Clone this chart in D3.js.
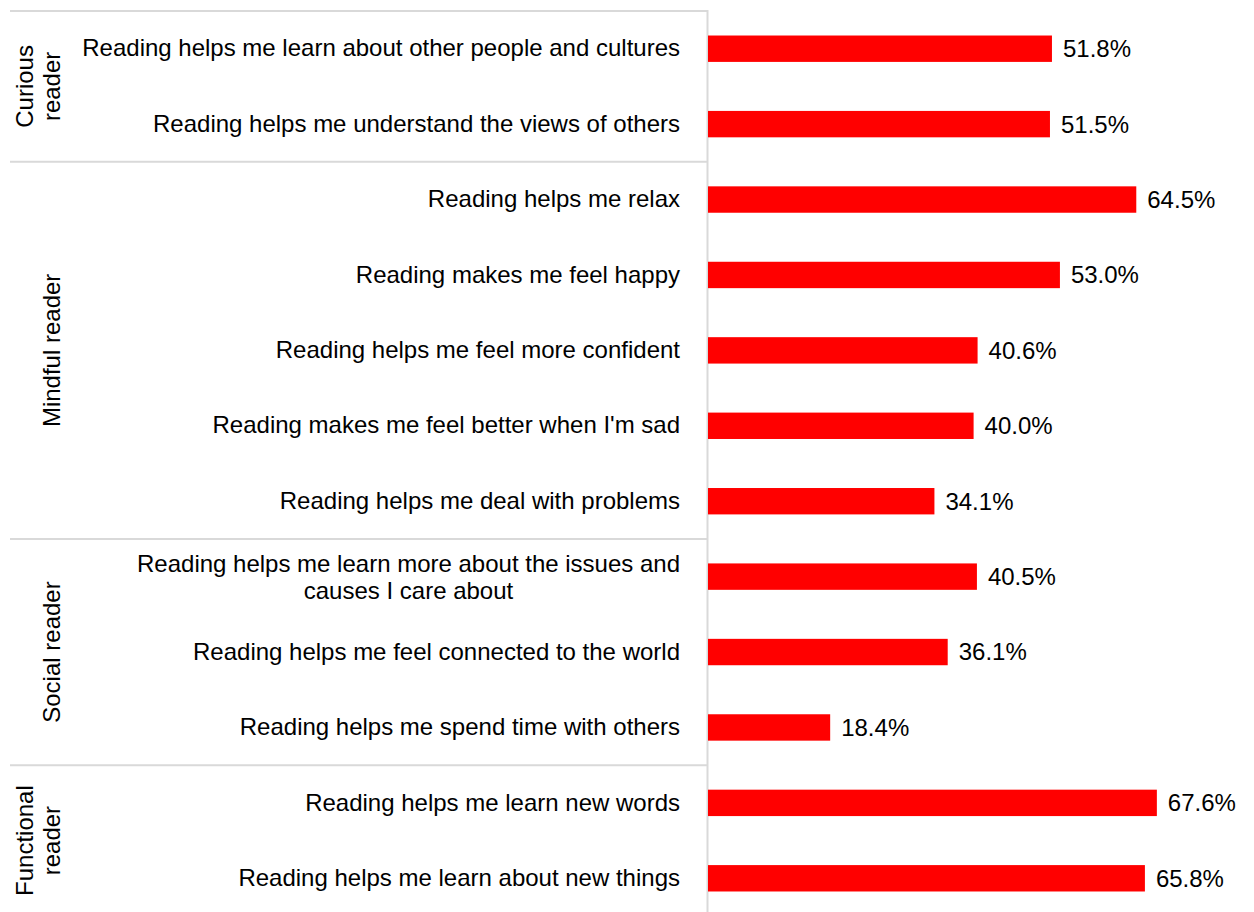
<!DOCTYPE html>
<html>
<head>
<meta charset="utf-8">
<script src="https://cdn.jsdelivr.net/npm/d3@7"></script>
<style>
  html, body { margin: 0; padding: 0; background: #fff; }
  svg { display: block; }
  text { font-family: "Liberation Sans", Arial, sans-serif; fill: #000; }
</style>
</head>
<body>
<svg id="chart" width="1254" height="912"></svg>
<script>
// Statements about reading, grouped by reader type, with the share agreeing (%)
const categories = [
  "Reading helps me learn about other people and cultures",
  "Reading helps me understand the views of others",
  "Reading helps me relax",
  "Reading makes me feel happy",
  "Reading helps me feel more confident",
  "Reading makes me feel better when I'm sad",
  "Reading helps me deal with problems",
  "Reading helps me learn more about the issues and causes I care about",
  "Reading helps me feel connected to the world",
  "Reading helps me spend time with others",
  "Reading helps me learn new words",
  "Reading helps me learn about new things"
];
const values = [51.8, 51.5, 64.5, 53.0, 40.6, 40.0, 34.1, 40.5, 36.1, 18.4, 67.6, 65.8];
const groupNames = ["Curious reader", "Mindful reader", "Social reader", "Functional reader"];
const groupSizes = [2, 5, 3, 2];

const svg = d3.select("#chart");
const FONT = 24;
const axisX = 708;
const plotTop = 11, plotBottom = 916;
const gridColor = "#d9d9d9";

const y = d3.scaleBand()
  .domain(d3.range(categories.length))
  .range([plotTop, plotBottom])
  .paddingInner(0.65)
  .paddingOuter(0.325);
const step = y.step();

const x = d3.scaleLinear().domain([0, 100]).range([axisX, axisX + 664]);

// Group separators
const groupStarts = [0];
groupSizes.forEach((s, i) => groupStarts.push(groupStarts[i] + s));
svg.append("g").selectAll("line")
  .data(groupStarts.slice(0, -1))
  .join("line")
  .attr("x1", 10).attr("x2", axisX)
  .attr("y1", d => plotTop + d * step).attr("y2", d => plotTop + d * step)
  .attr("stroke", gridColor).attr("stroke-width", 2);

// Vertical category axis line
svg.append("line")
  .attr("x1", axisX - 0.5).attr("x2", axisX - 0.5)
  .attr("y1", plotTop - 1).attr("y2", 912)
  .attr("stroke", gridColor).attr("stroke-width", 2);

// Bars
svg.append("g").selectAll("rect")
  .data(values)
  .join("rect")
  .attr("x", x(0))
  .attr("y", (d, i) => y(i))
  .attr("width", d => x(d) - x(0))
  .attr("height", y.bandwidth())
  .attr("fill", "#ff0000");

// Value labels
svg.append("g").selectAll("text")
  .data(values)
  .join("text")
  .attr("x", d => x(d) + 11)
  .attr("y", (d, i) => y(i) + y.bandwidth() / 2)
  .attr("dy", "0.35em")
  .style("font-size", FONT + "px")
  .text(d => d.toFixed(1) + "%");

// Category axis
const yAxis = d3.axisLeft(y)
  .tickSize(0)
  .tickPadding(28)
  .tickFormat(i => categories[i]);
const axisG = svg.append("g")
  .attr("transform", `translate(${axisX},0)`)
  .call(yAxis);
axisG.select(".domain").remove();
axisG.attr("font-family", null).attr("font-size", null);
axisG.selectAll("text")
  .style("font-size", FONT + "px")
  .attr("fill", "#000");

// Wrap long labels: lines centred on each other, block right-aligned
const maxLabel = 620;
axisG.selectAll(".tick text").each(function () {
  const t = d3.select(this);
  if (this.getComputedTextLength() <= maxLabel) return;
  const words = t.text().split(" ");
  t.text(null);
  const lines = [];
  let line = [];
  const probe = t.append("tspan");
  words.forEach(w => {
    line.push(w);
    probe.text(line.join(" "));
    if (probe.node().getComputedTextLength() > maxLabel && line.length > 1) {
      line.pop();
      lines.push(line.join(" "));
      line = [w];
    }
  });
  lines.push(line.join(" "));
  probe.remove();
  const widths = [];
  const spans = lines.map(l => {
    const s = t.append("tspan").text(l);
    widths.push(s.node().getComputedTextLength());
    return s;
  });
  const W = d3.max(widths);
  const lh = 27;
  const pad = +t.attr("x");
  t.attr("dy", null).attr("text-anchor", "middle");
  spans.forEach((s, k) => {
    s.attr("x", pad - W / 2)
     .attr("y", (k - (lines.length - 1) / 2) * lh)
     .attr("dy", "0.35em");
  });
});

// Group labels, rotated; wrapped when longer than the group span
const gLabels = svg.append("g");
groupNames.forEach((name, gi) => {
  const y0 = plotTop + groupStarts[gi] * step;
  const y1 = plotTop + groupStarts[gi + 1] * step;
  const cy = (y0 + y1) / 2;
  const avail = (y1 - y0) - 12;
  const t = gLabels.append("text")
    .attr("transform", `translate(0,${cy}) rotate(-90)`)
    .attr("text-anchor", "middle")
    .style("font-size", FONT + "px")
    .text(name);
  let lines = [name];
  if (t.node().getComputedTextLength() > avail) lines = name.split(" ");
  t.text(null);
  const lastX = 52, lh = 27;
  lines.forEach((l, k) => {
    const xPos = lastX - (lines.length - 1 - k) * lh;
    // In the rotated frame, screen x runs along the text's y axis
    t.append("tspan")
      .attr("x", 0)
      .attr("y", xPos)
      .attr("dy", "0.35em")
      .text(l);
  });
});
</script>
</body>
</html>
